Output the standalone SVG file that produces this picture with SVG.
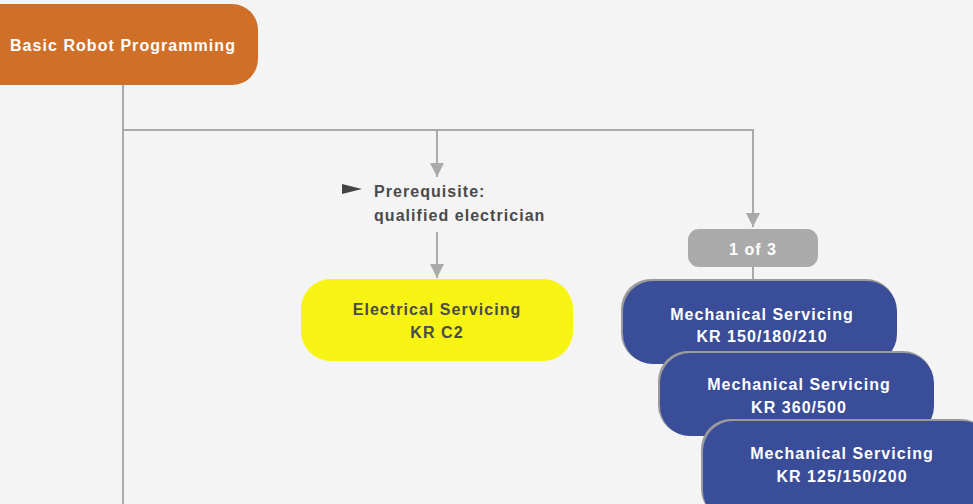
<svg xmlns="http://www.w3.org/2000/svg" width="973" height="504" viewBox="0 0 973 504">
<defs>
<style>
.t{font-family:"Liberation Sans",Arial,sans-serif;font-weight:bold;font-size:16px;letter-spacing:1.05px}
.w{fill:#ffffff}
.d{fill:#4a4a4a}
.c{stroke:#aaaaaa;stroke-width:2;fill:none}
.blue{fill:#3a4d98}
.sh{fill:#9b9b9b}
</style>
<marker id="ah" viewBox="0 0 10 10" refX="10" refY="5" markerWidth="14" markerHeight="14" markerUnits="userSpaceOnUse" orient="auto">
<path d="M0,0 L10,5 L0,10 Z" fill="#aaaaaa"/>
</marker>
</defs>
<rect width="973" height="504" fill="#f4f4f4"/>
<g id="connectors">
<line class="c" x1="123" y1="85" x2="123" y2="504"/>
<polyline class="c" points="123,130 753,130 753,227"/>
<line class="c" x1="437" y1="130" x2="437" y2="177" marker-end="url(#ah)"/>
<line class="c" x1="437" y1="232" x2="437" y2="278" marker-end="url(#ah)"/>
<line class="c" x1="753" y1="212" x2="753" y2="227" marker-end="url(#ah)"/>
<line class="c" x1="753" y1="266" x2="753" y2="282"/>
</g>
<g id="basic">
<rect x="-30" y="4" width="288" height="81" rx="26" fill="#d07028"/>
<text class="t w" x="10" y="51">Basic Robot Programming</text>
</g>
<g id="prereq">
<path d="M342,184 L362,189 L342,194 Z" fill="#444444"/>
<text class="t d" x="374" y="197">Prerequisite:</text>
<text class="t d" x="374" y="221">qualified electrician</text>
</g>
<g id="electrical">
<rect x="301" y="279" width="272" height="82" rx="30" fill="#f7f312"/>
<text class="t d" x="437" y="315" text-anchor="middle">Electrical Servicing</text>
<text class="t d" x="437" y="338" text-anchor="middle">KR C2</text>
</g>
<g id="oneof3">
<rect x="688" y="229" width="130" height="38" rx="11" fill="#aaaaaa"/>
<text class="t w" x="753" y="255" text-anchor="middle">1 of 3</text>
</g>
<g id="mech1">
<rect class="sh" x="621" y="279" width="275" height="84" rx="30"/>
<rect class="blue" x="623" y="281" width="274" height="83" rx="30"/>
<text class="t w" x="762" y="320" text-anchor="middle">Mechanical Servicing</text>
<text class="t w" x="762" y="342" text-anchor="middle">KR 150/180/210</text>
</g>
<g id="mech2">
<rect class="sh" x="658" y="351" width="275" height="84" rx="30"/>
<rect class="blue" x="660" y="353" width="274" height="83" rx="30"/>
<text class="t w" x="799" y="390" text-anchor="middle">Mechanical Servicing</text>
<text class="t w" x="799" y="413" text-anchor="middle">KR 360/500</text>
</g>
<g id="mech3">
<rect class="sh" x="701" y="419" width="290" height="100" rx="30"/>
<rect class="blue" x="703" y="421" width="290" height="100" rx="30"/>
<text class="t w" x="842" y="459" text-anchor="middle">Mechanical Servicing</text>
<text class="t w" x="842" y="482" text-anchor="middle">KR 125/150/200</text>
</g>
</svg>
